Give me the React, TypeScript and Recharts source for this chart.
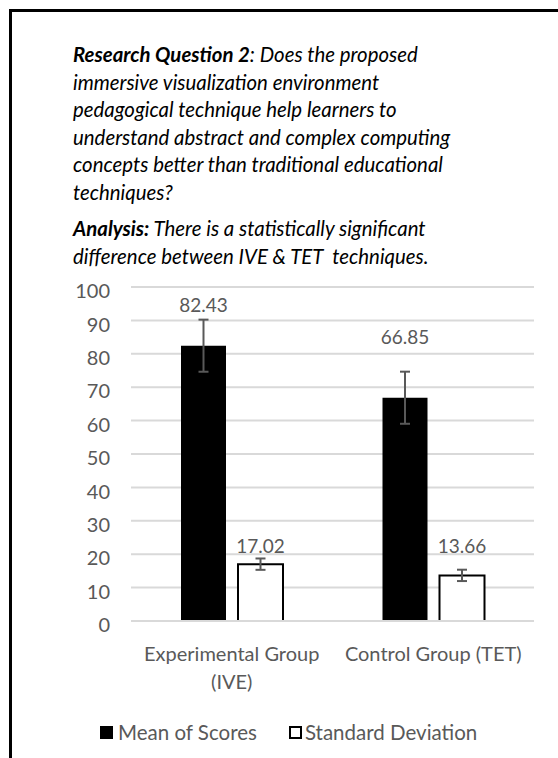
import React from "react";
import { BarChart, Bar, XAxis, YAxis, CartesianGrid, ErrorBar, LabelList, Legend } from "recharts";

// categories, split into the lines the axis shows
const groups = ["Experimental Group (IVE)", "Control Group (TET)"];
const groupLines = [["Experimental Group", "(IVE)"], ["Control Group (TET)"]];

const meanScores = [82.43, 66.85];
const meanErrors = [7.8, 7.8];
const stdDevs = [17.02, 13.66];
const stdDevErrors = [1.7, 1.7];

const yTicks = [0, 10, 20, 30, 40, 50, 60, 70, 80, 90, 100];

const data = groups.map((group, i) => ({
  group,
  mean: meanScores[i],
  meanErr: meanErrors[i],
  sd: stdDevs[i],
  sdErr: stdDevErrors[i],
}));

const GRAY = "#595959";
const FONT = "Lato, 'Open Sans', sans-serif";

// how far above the bar top each value label sits (px), as placed in the original
const meanLift = [40, 60];
const sdLift = [18, 29];

function makeLabel(lift: number[]) {
  return (props: any) => {
    const { x, y, width, value, index } = props;
    return (
      <text
        x={x + width / 2}
        y={y - lift[index]}
        dy="0.35em"
        textAnchor="middle"
        fill={GRAY}
        fontSize={19}
        fontFamily={FONT}
      >
        {Number(value).toFixed(2)}
      </text>
    );
  };
}

function GroupTick(props: any) {
  const { x, y, payload } = props;
  const lines = groupLines[payload.index] || [payload.value];
  return (
    <text x={x} y={y} textAnchor="middle" fill={GRAY} fontSize={20} fontFamily={FONT}>
      {lines.map((line, i) => (
        <tspan key={i} x={x} dy={i === 0 ? 32 : 28}>
          {line}
        </tspan>
      ))}
    </text>
  );
}

function LegendBox(props: any) {
  const { payload } = props;
  return (
    <div style={{ display: "flex", alignItems: "center", fontFamily: FONT, fontSize: 20.5, color: GRAY, lineHeight: "24px" }}>
      {(payload || []).map((entry: any, i: number) => (
        <div key={i} style={{ display: "flex", alignItems: "center", marginRight: 32 }}>
          <span
            style={{
              display: "inline-block",
              width: 13,
              height: 13,
              boxSizing: "border-box",
              background: entry.color,
              border: "2px solid #000",
              marginRight: i === 0 ? 5 : 3,
            }}
          />
          <span>{entry.value}</span>
        </div>
      ))}
    </div>
  );
}

export default function App() {
  return (
    <div style={{ position: "absolute", left: 0, top: 0, width: 558, height: 758, background: "#fff", overflow: "hidden" }}>
      <div
        style={{
          position: "absolute",
          left: 9,
          top: 9,
          width: 560,
          height: 760,
          borderTop: "3.5px solid #000",
          borderLeft: "3.5px solid #000",
        }}
      />
      <div
        style={{
          position: "absolute",
          left: 73,
          top: 41,
          fontFamily: FONT,
          fontStyle: "italic",
          fontSize: 20.4,
          lineHeight: "27.6px",
          color: "#000",
          whiteSpace: "nowrap",
        }}
      >
        <div>
          <b>Research Question 2</b>: Does the proposed
          <br />
          immersive visualization environment
          <br />
          pedagogical technique help learners to
          <br />
          understand abstract and complex computing
          <br />
          concepts better than traditional educational
          <br />
          techniques?
        </div>
        <div style={{ marginTop: 8.5 }}>
          <b>Analysis:</b> There is a statistically significant
          <br />
          difference between IVE &amp; TET&nbsp; techniques.
        </div>
      </div>
      <div style={{ position: "absolute", left: 0, top: 270 }}>
        <BarChart
          width={558}
          height={488}
          data={data}
          margin={{ top: 17, right: 24, bottom: 77, left: 0 }}
          barSize={45}
          barGap={12}
        >
          <CartesianGrid vertical={false} stroke="#d9d9d9" strokeWidth={2} />
          <XAxis
            dataKey="group"
            height={60}
            axisLine={{ stroke: "#d9d9d9", strokeWidth: 2 }}
            tickLine={false}
            tick={<GroupTick />}
            interval={0}
          />
          <YAxis
            domain={[0, 100]}
            ticks={yTicks}
            width={131}
            axisLine={false}
            tickLine={false}
            tickMargin={15}
            tick={{ fill: GRAY, fontSize: 20, fontFamily: FONT, dy: 4 }}
          />
          <Legend
            verticalAlign="middle"
            align="center"
            wrapperStyle={{ top: 450, left: 100, width: 450 }}
            content={<LegendBox />}
          />
          <Bar dataKey="mean" name="Mean of Scores" fill="#000" isAnimationActive={false}>
            <ErrorBar dataKey="meanErr" width={5} stroke={GRAY} strokeWidth={2} />
            <LabelList dataKey="mean" content={makeLabel(meanLift)} />
          </Bar>
          <Bar dataKey="sd" name="Standard Deviation" fill="#fff" stroke="#000" strokeWidth={2} isAnimationActive={false}>
            <ErrorBar dataKey="sdErr" width={5} stroke={GRAY} strokeWidth={2} />
            <LabelList dataKey="sd" content={makeLabel(sdLift)} />
          </Bar>
        </BarChart>
      </div>
    </div>
  );
}
